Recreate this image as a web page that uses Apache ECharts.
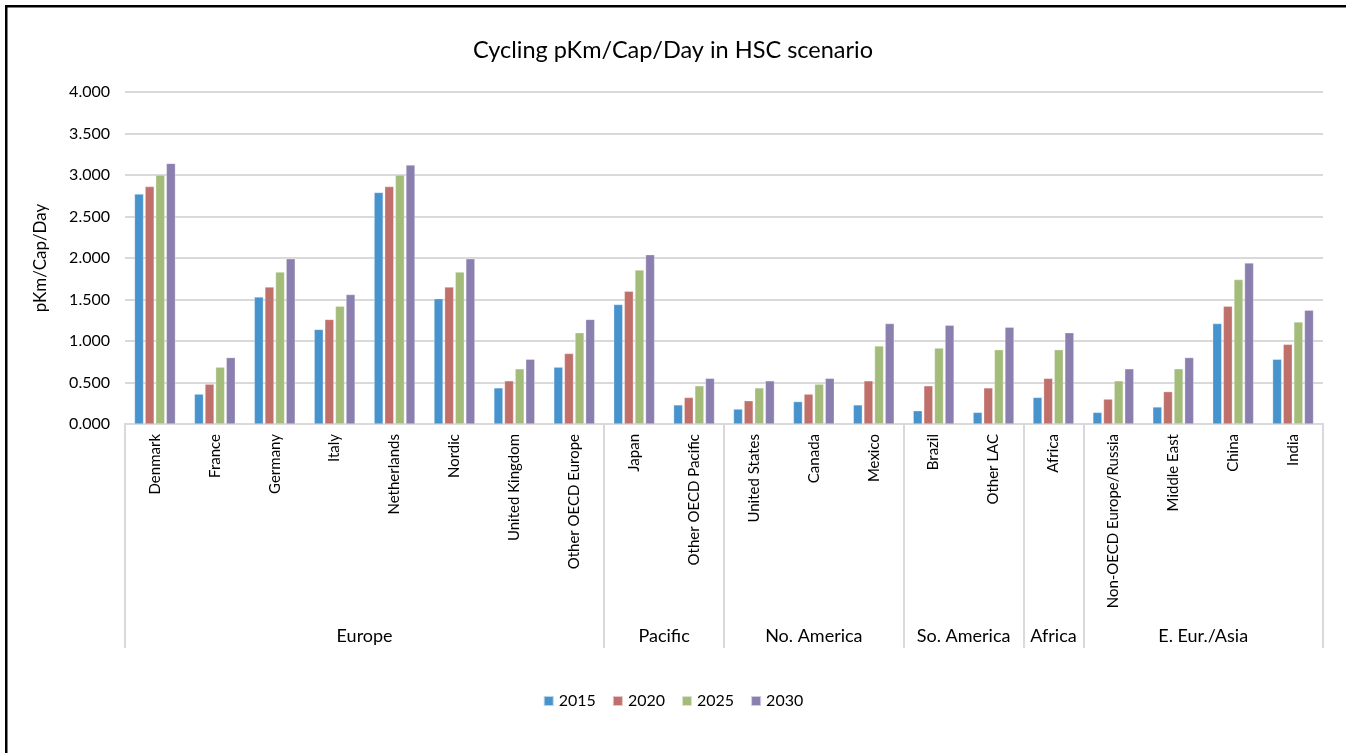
<!DOCTYPE html>
<html>
<head>
<meta charset="utf-8">
<title>Cycling pKm/Cap/Day</title>
<script src="https://cdn.jsdelivr.net/npm/echarts@6/dist/echarts.min.js"></script>
<style>
  html, body { margin: 0; padding: 0; background: #fff; }
  #chart { width: 1346px; height: 753px; }
</style>
</head>
<body>
<div id="chart"></div>
<script>
// categories (regions), grouped
var categories = ['Denmark', 'France', 'Germany', 'Italy', 'Netherlands', 'Nordic', 'United Kingdom', 'Other OECD Europe',
    'Japan', 'Other OECD Pacific', 'United States', 'Canada', 'Mexico', 'Brazil', 'Other LAC', 'Africa',
    'Non-OECD Europe/Russia', 'Middle East', 'China', 'India'];
var groupNames = ['Europe', 'Pacific', 'No. America', 'So. America', 'Africa', 'E. Eur./Asia'];
var groupSizes = [8, 2, 3, 2, 1, 4];
var seriesNames = ['2015', '2020', '2025', '2030'];
var yTicks = [0, 0.5, 1, 1.5, 2, 2.5, 3, 3.5, 4];

var v2015 = [2.77, 0.36, 1.53, 1.14, 2.79, 1.51, 0.435, 0.685, 1.44, 0.23, 0.18, 0.27, 0.23, 0.16, 0.14, 0.32, 0.14, 0.205, 1.21, 0.78];
var v2020 = [2.86, 0.48, 1.65, 1.26, 2.86, 1.65, 0.52, 0.85, 1.60, 0.32, 0.28, 0.36, 0.52, 0.46, 0.435, 0.55, 0.30, 0.39, 1.42, 0.96];
var v2025 = [3.00, 0.685, 1.83, 1.42, 3.00, 1.83, 0.665, 1.10, 1.855, 0.46, 0.435, 0.48, 0.94, 0.915, 0.895, 0.895, 0.52, 0.665, 1.74, 1.23];
var v2030 = [3.14, 0.80, 1.99, 1.56, 3.12, 1.99, 0.78, 1.26, 2.04, 0.55, 0.52, 0.55, 1.21, 1.19, 1.165, 1.10, 0.665, 0.80, 1.94, 1.37];

var colors = ['#4793cd', '#c0706a', '#a4bc7a', '#8a7fae'];
var FONT = 'Lato';

// 群组轴: 按半个类别切分, 0..40 个点
var slots = [], boundaries = [0], pos = 0;
for (var s = 0; s <= categories.length * 2; s++) slots.push('');
for (var g = 0; g < groupSizes.length; g++) {
    slots[pos + groupSizes[g]] = groupNames[g]; // 中心 (半类别单位)
    pos += groupSizes[g] * 2;
    boundaries.push(pos);
}

var chartManager = {
    initChart: function () {
        var myChart = echarts.init(document.getElementById('chart'), null, { renderer: 'canvas' });
        var allData = [v2015, v2020, v2025, v2030];
        var series = [];
        for (var i = 0; i < seriesNames.length; i++) {
            series.push({
                name: seriesNames[i],
                type: 'bar',
                data: allData[i],
                barWidth: 9,
                barGap: '18%',
                itemStyle: { color: colors[i], borderColor: 'rgba(255,255,255,0.6)', borderWidth: 0.5 }
            });
        }
        var option = {
            backgroundColor: '#fff',
            animation: false,
            textStyle: { fontFamily: FONT },
            color: colors,
            title: {
                text: 'Cycling pKm/Cap/Day in HSC scenario',
                left: 'center',
                top: 33,
                textStyle: { fontFamily: FONT, fontSize: 23.5, fontWeight: 'normal', color: '#000' }
            },
            legend: {
                data: seriesNames,
                top: 688,
                left: 'center',
                itemWidth: 10,
                itemHeight: 10,
                itemGap: 16,
                icon: 'rect',
                textStyle: { fontFamily: FONT, fontSize: 16, color: '#000' }
            },
            grid: { left: 125, right: 23, top: 92, bottom: 329 },
            xAxis: [{
                type: 'category',
                data: categories,
                axisLine: { show: true, lineStyle: { color: '#d9d9dc', width: 2 } },
                axisTick: { show: false },
                axisLabel: { interval: 0, rotate: 90, margin: 10, fontSize: 15, color: '#000', fontFamily: FONT }
            }, {
                type: 'category',
                data: slots,
                boundaryGap: false,
                position: 'bottom',
                axisLine: { show: false },
                axisTick: {
                    show: true,
                    length: 224,
                    interval: function (index) { return boundaries.indexOf(index) >= 0; },
                    lineStyle: { color: '#d9d9dc', width: 2 }
                },
                axisLabel: {
                    interval: function (index, value) { return value !== ''; },
                    margin: 203,
                    fontSize: 18,
                    color: '#000',
                    fontFamily: FONT
                },
                splitLine: { show: false }
            }],
            yAxis: {
                type: 'value',
                min: yTicks[0],
                max: yTicks[yTicks.length - 1],
                interval: yTicks[1] - yTicks[0],
                name: 'pKm/Cap/Day',
                nameLocation: 'middle',
                nameGap: 76,
                nameTextStyle: { fontFamily: FONT, fontSize: 17, color: '#000' },
                axisLine: { show: false },
                axisTick: { show: false },
                axisLabel: {
                    margin: 15,
                    fontSize: 16,
                    color: '#000',
                    fontFamily: FONT,
                    formatter: function (v) { return v.toFixed(3); }
                },
                splitLine: { lineStyle: { color: '#d9d9dc', width: 2 } }
            },
            // 外框 (上, 左)
            graphic: [
                { type: 'rect', shape: { x: 5, y: 5, width: 1346, height: 2.5 }, style: { fill: '#000' }, silent: true },
                { type: 'rect', shape: { x: 5, y: 5, width: 2.5, height: 753 }, style: { fill: '#000' }, silent: true }
            ],
            series: series
        };
        myChart.setOption(option);
    }
};
chartManager.initChart();
</script>
</body>
</html>
